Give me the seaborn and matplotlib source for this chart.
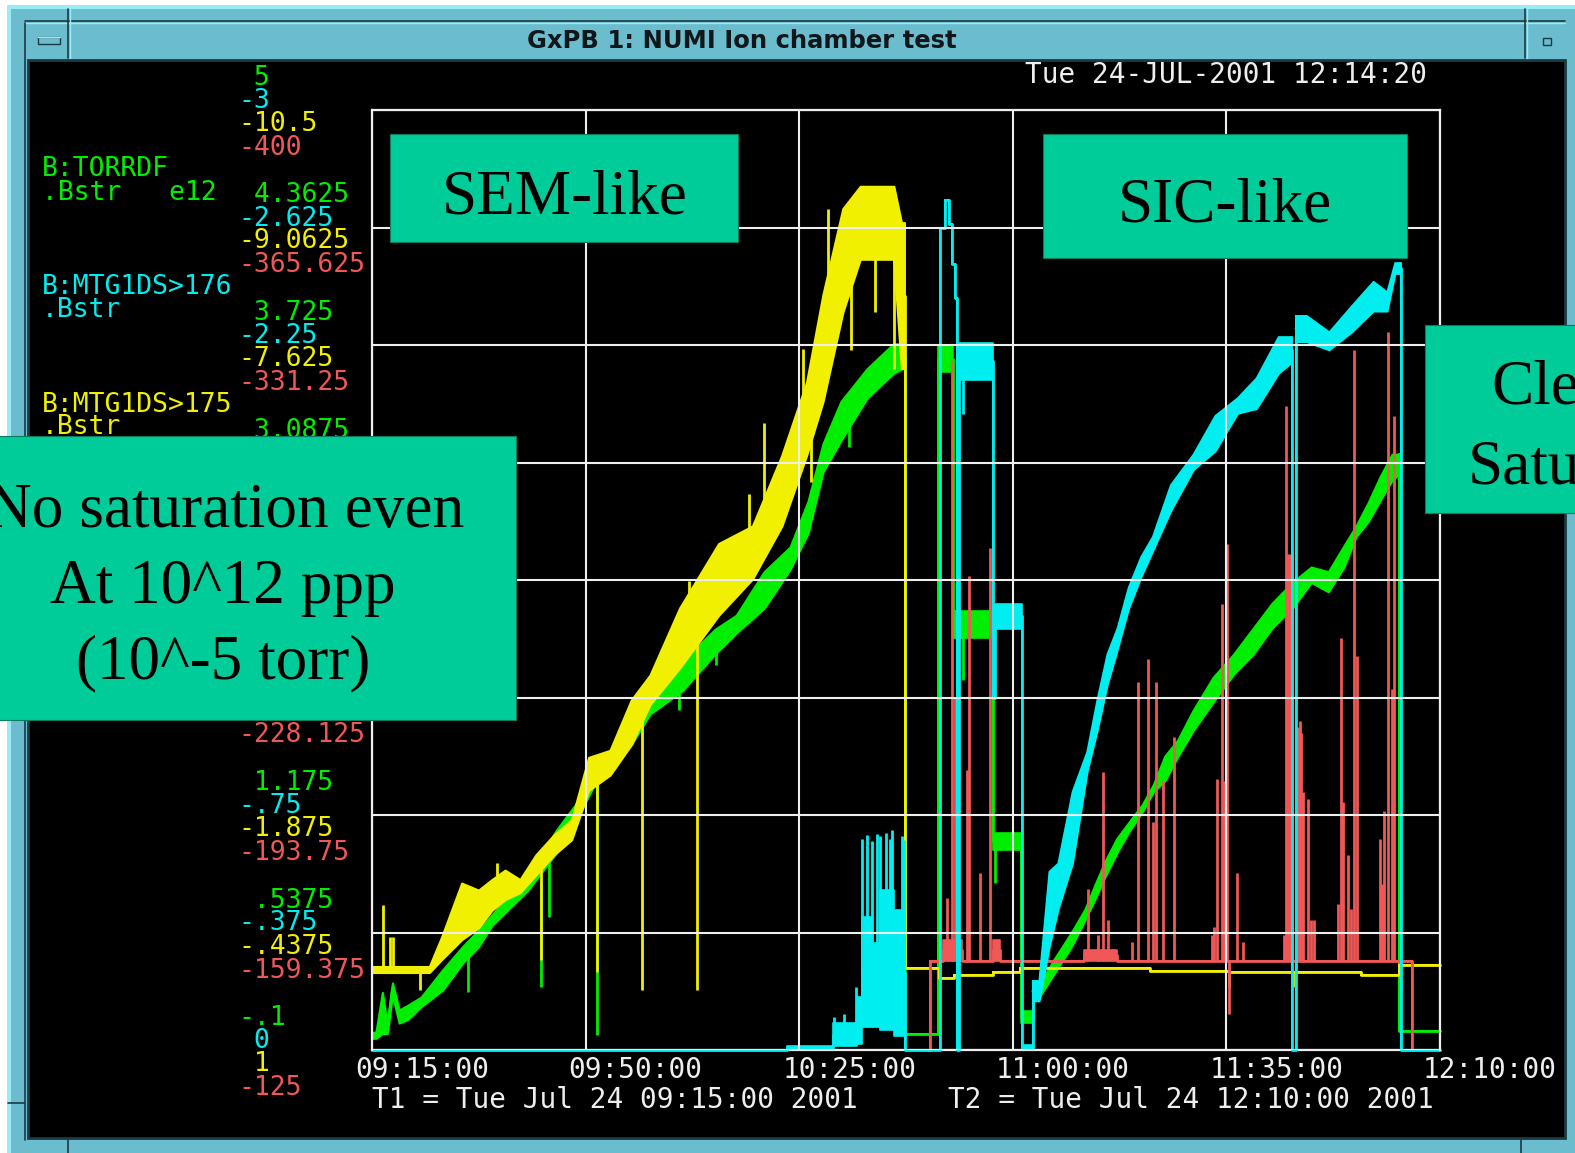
import numpy as np
import matplotlib
matplotlib.use("Agg")
import matplotlib.pyplot as plt
from matplotlib.patches import Rectangle
from matplotlib.transforms import ScaledTranslation
import seaborn as sns

nan = np.nan
# ------------------------------------------------------------------ data
# time axis: minutes after 09:15:00 ; values in screen divisions (0 .. 8)
x_tick_minutes = [0, 35, 70, 105, 140, 175]
x_tick_labels = ["09:15:00", "09:50:00", "10:25:00", "11:00:00", "11:35:00", "12:10:00"]

green_scale = ["-.1", ".5375", "1.175", "1.8125", "2.45", "3.0875", "3.725", "4.3625", "5"]
cyan_scale = ["0", "-.375", "-.75", "-1.125", "-1.5", "-1.875", "-2.25", "-2.625", "-3"]
yellow_scale = ["1", "-.4375", "-1.875", "-3.3125", "-4.75", "-6.1875", "-7.625", "-9.0625", "-10.5"]
red_scale = ["-125", "-159.375", "-193.75", "-228.125", "-262.5", "-296.875", "-331.25", "-365.625", "-400"]

green_name = ["B:TORRDF", ".Bstr   e12"]
cyan_name = ["B:MTG1DS>176", ".Bstr"]
yellow_name = ["B:MTG1DS>175", ".Bstr"]

# ---- B:TORRDF (green): noisy rising bands (time, band low, band high)
green_rise1_t = [0.0, 0.65, 1.7, 2.5, 3.35, 4.45, 5.85, 8.05, 11.55, 14.85,
                 17.45, 19.65, 21.8, 25.55, 30.2, 33.5, 36.25, 39.5, 42.5, 45.55,
                 50.9, 56.2, 59.7, 64.25, 68.5, 71.45, 73.9, 76.85, 81.15, 85.45,
                 86.9]
green_rise1_lo = [0.10, 0.10, 0.14, 0.14, 0.47, 0.23, 0.26, 0.37, 0.51, 0.74,
                  0.88, 1.06, 1.17, 1.36, 1.68, 1.96, 2.24, 2.44, 2.60, 2.86,
                  3.06, 3.37, 3.55, 3.76, 4.09, 4.40, 4.92, 5.19, 5.55, 5.76,
                  5.80]
green_rise1_hi = [0.15, 0.15, 0.49, 0.21, 0.57, 0.34, 0.38, 0.45, 0.68, 0.88,
                  1.02, 1.15, 1.28, 1.47, 1.87, 2.10, 2.49, 2.55, 2.78, 3.14,
                  3.31, 3.58, 3.70, 4.07, 4.28, 4.67, 5.16, 5.52, 5.80, 6.01,
                  6.01]
green_rise2_t = [108.3, 109.3, 111.75, 114.6, 116.85, 118.5, 120.15, 122.05, 124.05, 126.25,
                 128.05, 129.9, 132.05, 134.55, 137.8, 141.2, 144.4, 147.45, 150.8, 153.9,
                 156.7, 159.25, 161.25, 163.25, 165.2, 167.15, 168.2]
green_rise2_lo = [0.45, 0.45, 0.65, 0.88, 1.11, 1.29, 1.48, 1.68, 1.86, 2.03,
                  2.20, 2.29, 2.50, 2.72, 2.96, 3.20, 3.37, 3.59, 3.76, 3.98,
                  3.90, 4.11, 4.37, 4.50, 4.68, 4.85, 4.90]
green_rise2_hi = [0.55, 0.55, 0.77, 1.00, 1.20, 1.41, 1.61, 1.80, 1.94, 2.09,
                  2.26, 2.50, 2.64, 2.89, 3.17, 3.37, 3.59, 3.80, 3.98, 4.11,
                  4.07, 4.29, 4.46, 4.66, 4.88, 5.07, 5.07]
# plateaus and jumps (held until the next time)
green_step_t = [86.9, 87.3, 92.7, 95.2, 101.8, 106.3, 108.3, 108.4, 168.2, 168.3, 175.0]
green_step_lo = [5.80, 0.14, 5.77, 3.51, 1.70, 0.23, 0.45, nan, 4.90, 0.16, 0.16]
green_step_hi = [6.01, 0.14, 6.00, 3.74, 1.85, 0.33, 0.55, nan, 5.07, 0.16, 0.16]
green_spike_t = [15.7, 27.7, 29.0, 36.9, 50.3, 56.3, 78.1, 96.8, 102.1]
green_spike_from = [0.85, 1.42, 1.75, 2.36, 3.15, 3.45, 5.35, 3.55, 1.75]
green_spike_to = [0.49, 0.54, 1.13, 0.13, 2.89, 3.28, 5.13, 3.15, 1.42]

# ---- B:MTG1DS>175 (yellow)
yellow_rise_t = [0.0, 9.4, 11.4, 14.7, 17.45, 19.65, 21.8, 24.25, 26.85, 29.8,
                 32.7, 35.5, 39.0, 42.5, 45.55, 50.4, 56.8, 62.35, 67.15, 71.2,
                 73.9, 77.15, 80.0, 85.5, 86.75, 87.2]
yellow_rise_lo = [0.66, 0.66, 0.77, 0.94, 1.04, 1.19, 1.28, 1.34, 1.49, 1.66,
                  1.79, 2.21, 2.34, 2.60, 2.94, 3.25, 3.70, 4.01, 4.46, 5.06,
                  5.52, 6.28, 6.73, 6.73, 5.80, 5.80]
yellow_rise_hi = [0.71, 0.71, 0.96, 1.42, 1.36, 1.45, 1.53, 1.45, 1.66, 1.83,
                  1.96, 2.49, 2.55, 2.98, 3.19, 3.76, 4.31, 4.46, 5.06, 5.68,
                  6.43, 7.16, 7.35, 7.35, 7.04, 7.04]
yellow_step_t = [87.2, 87.3, 92.9, 95.4, 101.8, 106.2, 127.5, 140.4, 150.9, 162.1, 168.3, 175.0]
yellow_step_lo = [5.80, 0.70, 0.61, 0.64, 0.66, 0.70, 0.67, 0.66, 0.66, 0.64, 0.72, 0.72]
yellow_step_hi = [7.04, 0.70, 0.61, 0.64, 0.66, 0.70, 0.67, 0.66, 0.66, 0.64, 0.72, 0.72]
yellow_spike_t = [1.8, 2.9, 3.4, 7.9, 20.5, 27.7, 36.9, 44.2, 53.3, 51.9,
                  61.8, 64.2, 70.6, 71.9, 74.7, 78.5, 82.4, 85.6, 140.4, 150.9]
yellow_spike_from = [0.70, 0.70, 0.70, 0.68, 1.45, 1.55, 2.40, 2.95, 3.55, 3.50,
                     4.20, 4.40, 5.30, 5.30, 6.30, 6.90, 7.00, 6.90, 0.66, 0.66]
yellow_spike_to = [1.23, 0.96, 0.96, 0.51, 1.59, 0.77, 0.66, 0.51, 0.51, 3.99,
                   4.73, 5.34, 5.97, 4.83, 7.16, 5.96, 6.28, 5.80, 0.54, 0.54]

# ---- B:MTG1DS>176 (cyan)
cyan_rise1_t = [108.3, 109.3, 110.95, 112.4, 114.75, 117.15, 118.8, 120.45, 122.1, 123.95,
                126.0, 127.9, 130.85, 134.55, 138.15, 141.8, 144.9, 148.5, 150.6]
cyan_rise1_lo = [0.42, 0.42, 0.88, 1.20, 1.59, 2.37, 2.72, 3.11, 3.41, 3.76,
                 4.03, 4.25, 4.59, 4.94, 5.10, 5.42, 5.46, 5.76, 5.85]
cyan_rise1_hi = [0.59, 0.59, 1.52, 1.59, 2.20, 2.54, 2.98, 3.37, 3.59, 3.94,
                 4.20, 4.37, 4.81, 5.07, 5.40, 5.55, 5.72, 6.07, 6.07]
cyan_rise2_t = [151.4, 153.1, 156.8, 160.45, 164.05, 166.3, 167.6, 168.5]
cyan_rise2_lo = [6.03, 6.03, 5.96, 6.11, 6.29, 6.29, 6.61, 6.61]
cyan_rise2_hi = [6.25, 6.25, 6.11, 6.33, 6.54, 6.45, 6.70, 6.70]
cyan_step_t = [0.0, 68.0, 75.6, 79.5, 80.3, 81.9, 83.2, 85.5, 87.3, 93.1,
               93.9, 94.6, 95.0, 95.5, 95.9, 96.2, 101.8, 102.1, 106.5, 108.3,
               108.4, 150.6, 150.7, 151.4, 151.5, 168.5, 168.6, 175.0]
cyan_step_lo = [0.0, 0.01, 0.03, 0.05, 0.20, 0.20, 0.17, 0.12, 0.0, 7.00,
                7.23, 7.03, 6.69, 6.40, 0.0, 5.70, 3.00, 3.58, 0.0, 0.42,
                nan, 5.85, 0.0, 6.03, nan, 6.61, 0.0, 0.0]
cyan_step_hi = [0.0, 0.03, 0.23, 0.45, 1.13, 0.91, 1.36, 1.19, 0.0, 7.00,
                7.23, 7.03, 6.69, 6.40, 0.0, 6.02, 3.00, 3.80, 0.04, 0.59,
                nan, 6.07, 0.0, 6.25, nan, 6.70, 0.0, 0.0]
cyan_spike_t = [75.7, 77.3, 79.3, 80.3, 81.1, 81.9, 82.8, 83.2, 84.2, 84.9,
                85.2, 86.9, 87.2, 96.8]
cyan_spike_from = [0.03, 0.03, 0.05, 0.20, 0.20, 0.20, 0.20, 0.20, 0.20, 0.20,
                   0.20, 0.20, 0.20, 5.80]
cyan_spike_to = [0.28, 0.31, 0.54, 1.80, 1.83, 1.78, 1.84, 1.82, 1.85, 1.80,
                 1.87, 1.82, 1.79, 5.41]

# ---- fourth channel (red)
red_step_t = [91.2, 91.4, 93.6, 96.7, 101.8, 102.9, 116.6, 122.0, 170.4, 170.6]
red_step_lo = [0.0, 0.76, 0.76, 0.76, 0.76, 0.76, 0.76, 0.76, 0.0, 0.0]
red_step_hi = [0.0, 0.76, 0.94, 0.76, 0.94, 0.76, 0.85, 0.76, 0.0, 0.0]
red_spike_base = 0.76
red_spike_t = [94.2, 95.0, 95.5, 97.5, 97.8, 99.6, 101.3, 117.3, 119.0, 119.8,
               120.6, 124.5, 125.5, 127.2, 128.0, 128.5, 129.6, 131.4, 137.6, 138.0,
               138.5, 139.3, 139.6, 139.8, 140.1, 140.4, 141.7, 142.7, 149.4, 149.8,
               150.1, 150.4, 150.7, 151.7, 152.0, 152.3, 152.6, 153.4, 153.8, 154.3,
               158.3, 158.8, 159.1, 159.9, 160.4, 160.9, 161.4, 165.2, 165.5, 165.9,
               166.5, 167.2, 167.5]
red_spike_top = [1.29, 5.87, 3.00, 2.38, 4.03, 1.51, 4.27, 1.37, 0.98, 2.37,
                 1.11, 0.92, 3.13, 3.33, 1.94, 3.13, 2.29, 2.66, 0.98, 1.05,
                 2.31, 3.80, 2.29, 2.29, 4.31, 0.31, 1.51, 0.92, 0.98, 5.48,
                 4.22, 4.22, 4.22, 2.75, 2.80, 2.70, 2.20, 2.14, 1.11, 1.11,
                 1.24, 3.51, 2.11, 1.66, 1.20, 5.96, 3.35, 1.80, 1.41, 2.03,
                 6.11, 3.07, 5.40]

title = "GxPB 1: NUMI Ion chamber test"
timestamp = "Tue 24-JUL-2001 12:14:20"
t1_text = "T1 = Tue Jul 24 09:15:00 2001"
t2_text = "T2 = Tue Jul 24 12:10:00 2001"

# ------------------------------------------------------------------ style
sns.set_theme(style="dark")
plt.rcParams["font.family"] = ["DejaVu Sans"]

GREEN = "#00ee00"
CYAN = "#00eef0"
YELLOW = "#f0f000"
RED = "#f05858"
WHITE = "#eeeeee"
TEAL = "#00cc99"
FRAME = "#6bbccc"
FRAME_LIGHT = "#98ecf8"
FRAME_DARK = "#1c3a44"
MONO = "DejaVu Sans Mono"
SERIF = "Liberation Serif"
MONO_SIZE = 20
STACK_SIZE = 19
W, H = 1575, 1153

fig = plt.figure(figsize=(W / 100, H / 100), dpi=100)
fig.patch.set_facecolor("white")

# background window frame (pixel coordinates, y down)
bg = fig.add_axes([0, 0, 1, 1], zorder=-5)
bg.set_xlim(0, W)
bg.set_ylim(H, 0)
bg.axis("off")
bg.add_patch(Rectangle((7, 5), W, H, facecolor=FRAME_LIGHT, edgecolor="none"))
bg.add_patch(Rectangle((11, 9), W, H, facecolor=FRAME, edgecolor="none"))
bg.add_patch(Rectangle((28, 60), 1537, 1078, facecolor="black", edgecolor=FRAME_DARK, lw=2))
bg.plot([25, 1565], [21, 21], color=FRAME_DARK, lw=1.2)
bg.plot([25, 1565], [23, 23], color=FRAME_LIGHT, lw=1.0)
bg.plot([68, 68], [9, 58], color=FRAME_DARK, lw=1.2)
bg.plot([70, 70], [9, 58], color=FRAME_LIGHT, lw=1.0)
bg.plot([1525, 1525], [9, 58], color=FRAME_DARK, lw=1.2)
bg.plot([1527, 1527], [9, 58], color=FRAME_LIGHT, lw=1.0)
bg.plot([25, 25], [23, 1140], color=FRAME_DARK, lw=1.2)
bg.add_patch(Rectangle((38, 37), 22, 7, facecolor=FRAME, edgecolor=FRAME_DARK, lw=1.0))
bg.plot([38, 60], [37, 37], color=FRAME_LIGHT, lw=1.0)
bg.add_patch(Rectangle((1543, 38), 8, 7, facecolor=FRAME, edgecolor=FRAME_DARK, lw=1.0))
bg.plot([68, 68], [1140, H], color=FRAME_DARK, lw=1.2)
bg.plot([1521, 1521], [1140, H], color=FRAME_DARK, lw=1.2)
bg.plot([8, 25], [1103, 1103], color=FRAME_DARK, lw=1.2)
bg.text(742, 41, title, ha="center", va="center", fontsize=17.5,
        fontweight="bold", color="#10161a", family="DejaVu Sans")

# ------------------------------------------------------------------ plot
ax = fig.add_axes([372 / W, 1 - 1050 / H, 1068 / W, 940 / H], zorder=0)
ax.set_facecolor("black")
ax.set_xlim(0, 175)
ax.set_ylim(0, 8)
ax.set_axisbelow(False)
ax.grid(True, color=WHITE, lw=1.5)
for name, sp in ax.spines.items():
    sp.set_visible(True)
    sp.set_color(WHITE)
    sp.set_linewidth(1.6)
ax.spines["bottom"].set_zorder(1.0)


def draw_rise(t, lo, hi, color, z):
    t = np.asarray(t, float)
    lo = np.asarray(lo, float)
    hi = np.asarray(hi, float)
    ax.fill_between(t, lo, hi, facecolor=color, edgecolor=color, lw=1.6, zorder=z)
    sns.lineplot(x=t, y=(lo + hi) / 2, ax=ax, color=color, lw=2.0,
                 estimator=None, sort=False, zorder=z + 0.05)


def draw_steps(t, lo, hi, color, z):
    t = np.asarray(t, float)
    lo = np.asarray(lo, float)
    hi = np.asarray(hi, float)
    ax.fill_between(t, lo, hi, step="post", facecolor=color, edgecolor=color,
                    lw=1.2, zorder=z)
    ax.plot(t, (lo + hi) / 2, color=color, lw=2.0, drawstyle="steps-post",
            zorder=z + 0.05, clip_on=False)


def draw_spikes(t, a, b, color, z):
    ax.vlines(t, a, b, colors=color, lw=2.0, zorder=z)


draw_rise(green_rise1_t, green_rise1_lo, green_rise1_hi, GREEN, 1.5)
draw_rise(green_rise2_t, green_rise2_lo, green_rise2_hi, GREEN, 1.5)
draw_steps(green_step_t, green_step_lo, green_step_hi, GREEN, 1.5)
draw_spikes(green_spike_t, green_spike_from, green_spike_to, GREEN, 1.5)

draw_rise(yellow_rise_t, yellow_rise_lo, yellow_rise_hi, YELLOW, 1.7)
draw_steps(yellow_step_t, yellow_step_lo, yellow_step_hi, YELLOW, 1.7)
draw_spikes(yellow_spike_t, yellow_spike_from, yellow_spike_to, YELLOW, 1.7)

draw_steps(red_step_t, red_step_lo, red_step_hi, RED, 1.8)
draw_spikes(red_spike_t, [red_spike_base] * len(red_spike_t), red_spike_top, RED, 1.8)

draw_rise(cyan_rise1_t, cyan_rise1_lo, cyan_rise1_hi, CYAN, 1.9)
draw_rise(cyan_rise2_t, cyan_rise2_lo, cyan_rise2_hi, CYAN, 1.9)
draw_steps(cyan_step_t, cyan_step_lo, cyan_step_hi, CYAN, 1.9)
draw_spikes(cyan_spike_t, cyan_spike_from, cyan_spike_to, CYAN, 1.9)

ax.set_xticks(x_tick_minutes, labels=x_tick_labels, fontfamily=MONO,
              fontsize=MONO_SIZE, color=WHITE, ha="left")
ax.set_yticks(range(9), labels=[""] * 9)
ax.tick_params(axis="both", length=0)
ax.tick_params(axis="x", pad=4.5)
ax.set_xlabel("")
ax.set_ylabel("")
shift = ScaledTranslation(-17 / 100, 0, fig.dpi_scale_trans)
for lab in ax.get_xticklabels():
    lab.set_transform(lab.get_transform() + shift)

# left-hand scale labels for each grid line, four channels stacked
val_x = (238 - 372) / 1068
name_x = (42 - 372) / 1068
offsets_px = [-35, -12, 11, 35]
box_top, box_bottom = 436, 720   # the "No saturation" note covers this band


def hidden(k, off_px):
    ypix = 1050 - 117.5 * k + off_px
    return box_top + 6 < ypix < box_bottom + 2


for k in range(9):
    for s, col, off in zip([green_scale[k], cyan_scale[k], yellow_scale[k], red_scale[k]],
                           [GREEN, CYAN, YELLOW, RED], offsets_px):
        if hidden(k, off):
            continue
        txt = s if s.startswith("-") else " " + s
        ax.annotate(txt, xy=(val_x, k), xycoords=("axes fraction", "data"),
                    xytext=(0, -(off + 3) * 0.72), textcoords="offset points", ha="left",
                    va="center", fontsize=STACK_SIZE, family=MONO, color=col,
                    annotation_clip=False)
for k, names, col in [(7, green_name, GREEN), (6, cyan_name, CYAN), (5, yellow_name, YELLOW)]:
    for s, off in zip(names, [-61, -38]):
        ax.annotate(s, xy=(name_x, k), xycoords=("axes fraction", "data"),
                    xytext=(0, -(off + 3) * 0.72), textcoords="offset points", ha="left",
                    va="center", fontsize=STACK_SIZE, family=MONO, color=col,
                    annotation_clip=False)

# ------------------------------------------------------------------ overlay
ov = fig.add_axes([0, 0, 1, 1], zorder=5)
ov.set_xlim(0, W)
ov.set_ylim(H, 0)
ov.axis("off")
ov.text(1025, 75, timestamp, ha="left", va="center", fontsize=MONO_SIZE, family=MONO, color=WHITE)
ov.text(372, 1100, t1_text, ha="left", va="center", fontsize=MONO_SIZE, family=MONO, color=WHITE)
ov.text(948, 1100, t2_text, ha="left", va="center", fontsize=MONO_SIZE, family=MONO, color=WHITE)

for (x0, y0, x1, y1) in [(-5, 436, 516, 720), (390, 134, 738, 242),
                         (1043, 134, 1407, 258), (1425, 325, 1620, 513)]:
    ov.add_patch(Rectangle((x0, y0), x1 - x0, y1 - y0, facecolor=TEAL,
                           edgecolor="#0a7a5c", lw=0.8, clip_on=False))

box_texts = [("SEM-like", 565, 213), ("SIC-like", 1225, 221),
             ("No saturation even", 225, 527), ("At 10^12 ppp", 223, 603),
             ("(10^-5 torr)", 223, 678), ("Clearly", 1584, 404), ("Saturates", 1584, 484)]
for s, x, y in box_texts:
    ov.text(x, y, s, ha="center", va="baseline", fontsize=45.5, family=SERIF, color="black")

fig.savefig("out.png", dpi=100, facecolor="white")
